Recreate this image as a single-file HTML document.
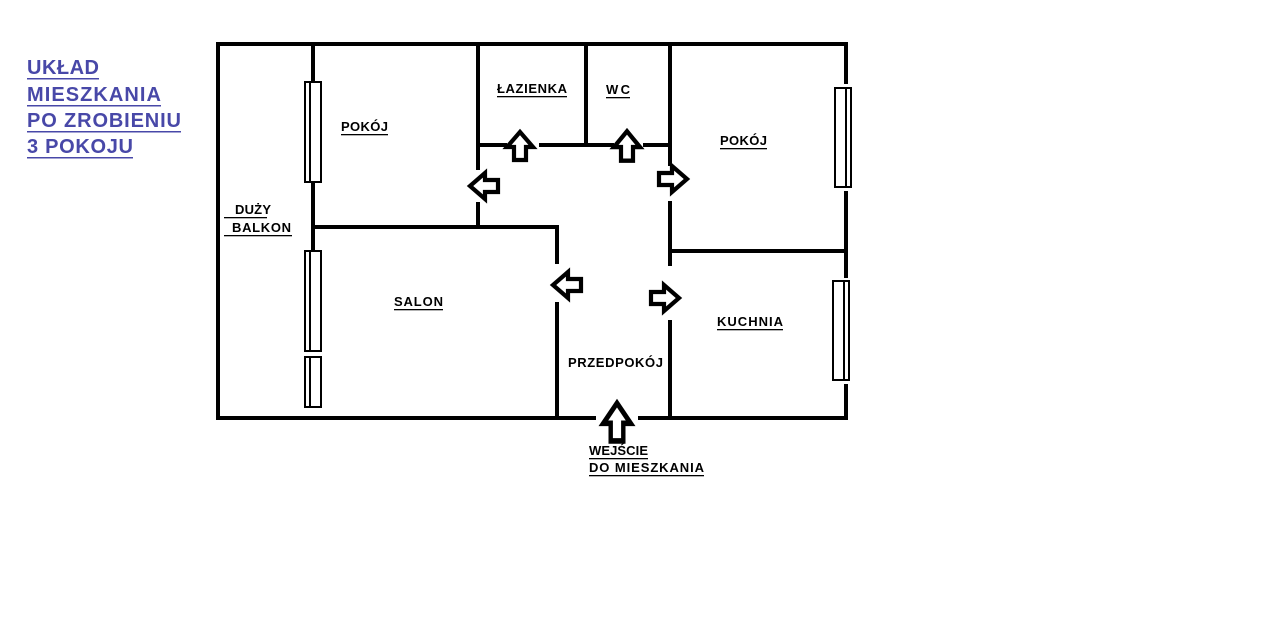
<!DOCTYPE html>
<html><head><meta charset="utf-8"><style>
html,body{margin:0;padding:0;background:#fff;}
svg{display:block;}
text{font-family:"Liberation Sans",sans-serif;font-weight:bold;}
</style></head><body>
<svg width="1280" height="639" viewBox="0 0 1280 639" xmlns="http://www.w3.org/2000/svg">
<defs>
<polygon id="ar" points="-14,-6 -1,-6 -1,-13 14,0 -1,13 -1,6 -14,6" fill="#fff" stroke="#000" stroke-width="4.2" stroke-linejoin="miter"/>
</defs>
<g stroke="#000" stroke-width="4" fill="none" stroke-linecap="square">
<path d="M218,44 H846 V82"/>
<path d="M846,193 V276"/>
<path d="M846,386 V418 H640"/>
<path d="M594,418 H218 V44"/>
<path d="M313,44 V80"/>
<path d="M313,184 V249"/>
<path d="M313,227 H557 V262"/>
<path d="M557,304 V418"/>
<path d="M478,44 V168"/>
<path d="M478,204 V227"/>
<path d="M478,145 H505"/>
<path d="M541,145 H612"/>
<path d="M645,145 H670"/>
<path d="M586,44 V145"/>
<path d="M670,44 V164"/>
<path d="M670,203 V264"/>
<path d="M670,322 V418"/>
<path d="M670,251 H846"/>
</g>
<g fill="#fff" stroke="#000" stroke-width="2">
<rect x="305" y="82" width="16" height="100"/><line x1="310" y1="82" x2="310" y2="182"/>
<rect x="305" y="251" width="16" height="100"/><line x1="310" y1="251" x2="310" y2="351"/>
<rect x="305" y="357" width="16" height="50"/><line x1="310" y1="357" x2="310" y2="407"/>
<rect x="835" y="88" width="16" height="99"/><line x1="846" y1="88" x2="846" y2="187"/>
<rect x="833" y="281" width="16" height="99"/><line x1="844" y1="281" x2="844" y2="380"/>
</g>
<use href="#ar" transform="translate(484,186) rotate(180)"/>
<use href="#ar" transform="translate(520,146) rotate(-90)"/>
<use href="#ar" transform="translate(627,146) rotate(-90) scale(1.05,1)"/>
<use href="#ar" transform="translate(673,179)"/>
<use href="#ar" transform="translate(567,285) rotate(180)"/>
<use href="#ar" transform="translate(665,298)"/>
<use href="#ar" transform="translate(617,422) rotate(-90) scale(1.35,1.05)"/>
<g font-size="13" fill="#000">
<text x="341" y="131" textLength="47">POKÓJ</text><rect x="341" y="134" width="47" height="1.3"/>
<text x="497" y="93" textLength="70">ŁAZIENKA</text><rect x="497" y="96" width="70" height="1.3"/>
<text x="606" y="94" textLength="24">WC</text><rect x="606" y="97" width="24" height="1.3"/>
<text x="720" y="145" textLength="47">POKÓJ</text><rect x="720" y="148" width="47" height="1.3"/>
<text x="235" y="214" textLength="36">DUŻY</text><rect x="224" y="217" width="43" height="1.3"/>
<text x="232" y="232" textLength="59">BALKON</text><rect x="224" y="235" width="68" height="1.3"/>
<text x="394" y="306" textLength="49">SALON</text><rect x="394" y="309" width="49" height="1.3"/>
<text x="717" y="326" textLength="66">KUCHNIA</text><rect x="717" y="329" width="66" height="1.3"/>
<text x="568" y="367" textLength="95">PRZEDPOKÓJ</text>
<text x="589" y="455" textLength="59">WEJŚCIE</text><rect x="589" y="458" width="59" height="1.3"/>
<text x="589" y="472" textLength="115">DO MIESZKANIA</text><rect x="589" y="475" width="115" height="1.3"/>
</g>
<g font-size="20" fill="#4848a8">
<text x="27" y="74" textLength="72">UKŁAD</text><rect x="27" y="78" width="72" height="1.5"/>
<text x="27" y="101" textLength="134">MIESZKANIA</text><rect x="27" y="105" width="134" height="1.5"/>
<text x="27" y="127" textLength="154">PO ZROBIENIU</text><rect x="27" y="131" width="154" height="1.5"/>
<text x="27" y="153" textLength="106">3 POKOJU</text><rect x="27" y="157" width="106" height="1.5"/>
</g>
</svg>
</body></html>
